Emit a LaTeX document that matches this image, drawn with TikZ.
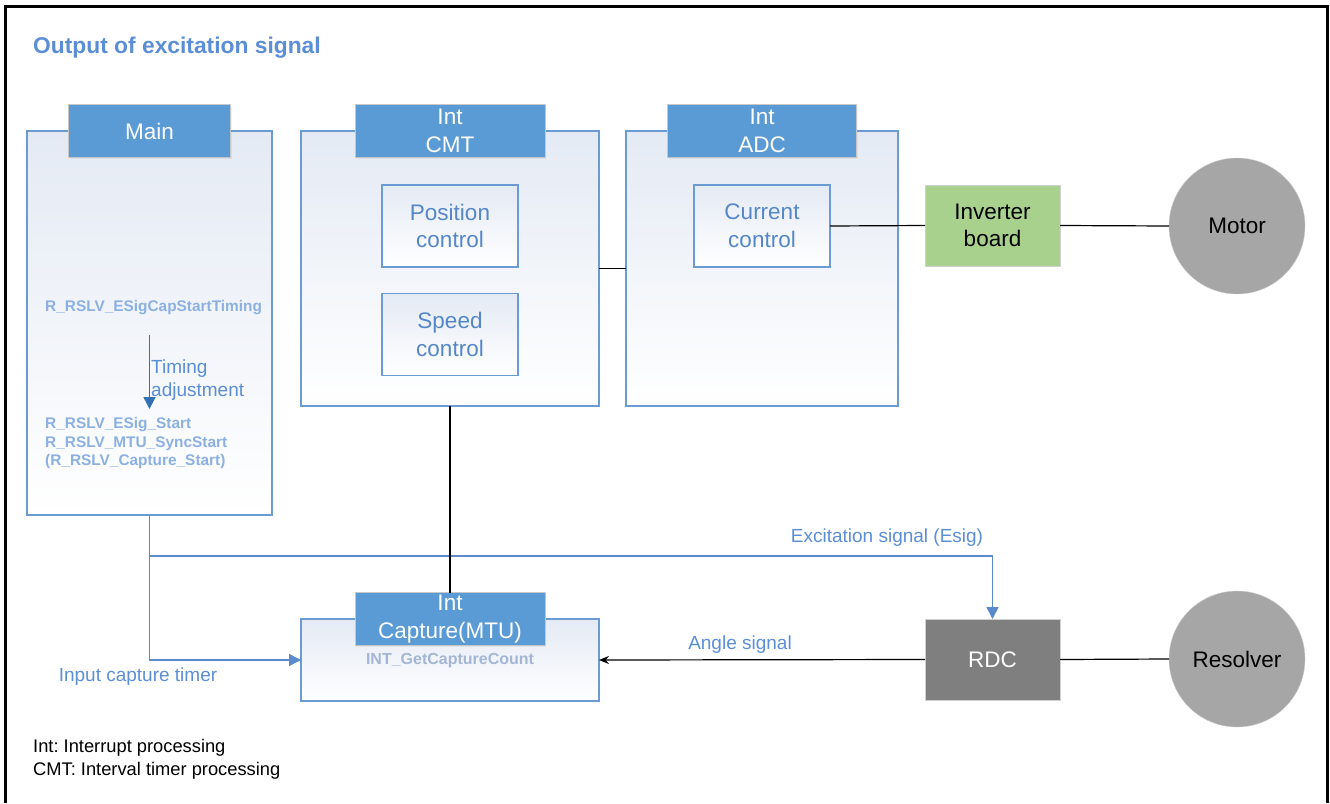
\documentclass[tikz,border=0pt]{standalone}
\usepackage{fontspec}
\setmainfont{Liberation Sans}
\usetikzlibrary{arrows.meta,shadows}
\frenchspacing

\begin{document}
\begin{tikzpicture}[x=1pt,y=-1pt,
  panel/.style={draw=panelline,line width=1.3pt,top color=panelfill,bottom color=white,inner sep=0pt,outer sep=0pt},
  head/.style={draw=black!22,fill=headfill,text=white,minimum height=53,inner sep=0pt,outer sep=0pt,align=center,
    font=\fontsize{22.5}{27.5}\selectfont,drop shadow={opacity=0.12,shadow xshift=1pt,shadow yshift=-1.5pt}},
  ctrl/.style={draw=panelline,line width=1.2pt,top color=panelfill,bottom color=white,minimum width=136,minimum height=82,
    inner sep=0pt,outer sep=0pt,text=ctrltext,align=center,font=\fontsize{22.5}{27.5}\selectfont},
  blk/.style={draw=black!18,minimum width=135,minimum height=81,inner sep=0pt,outer sep=0pt,align=center,font=\fontsize{22.5}{27.5}\selectfont},
  disc/.style={circle,draw=black!20,fill=discgray,minimum size=136,inner sep=0pt,outer sep=0pt,font=\fontsize{22.5}{27.5}\selectfont},
  fn/.style={inner sep=0pt,text=fnblue,font=\bfseries\fontsize{15.4}{18.7}\selectfont},
  lbl/.style={inner sep=0pt,text=lblblue,font=\fontsize{19}{22.5}\selectfont},
  wire/.style={draw=black,line width=1.2pt},
  sig/.style={draw=sigblue,line width=1.6pt,-{Triangle[length=12pt,width=12pt]}}]
\definecolor{panelline}{HTML}{6A9BD3}
\definecolor{panelfill}{HTML}{E4EAF4}
\definecolor{headfill}{HTML}{5B9BD5}
\definecolor{ctrltext}{HTML}{5587C8}
\definecolor{fnblue}{HTML}{8DB0E3}
\definecolor{capfn}{HTML}{A3B6D6}
\definecolor{lblblue}{HTML}{5B8ED6}
\definecolor{sigblue}{HTML}{5A8ACB}
\definecolor{timblue}{HTML}{3271B4}
\definecolor{invgreen}{HTML}{A9D18E}
\definecolor{rdcgray}{HTML}{7F7F7F}
\definecolor{discgray}{HTML}{A6A6A6}
\useasboundingbox (0,0) rectangle (1330,803);
\draw[line width=3pt] (5,803) -- (5,6) -- (1327,6) -- (1327,803);
\node[anchor=west,inner sep=0pt,text=lblblue,font=\bfseries\fontsize{22.8}{27}\selectfont] (title) at (33,48) {Output of excitation signal};

  \foreach \nm/\cx/\cy/\w/\h/\hw/\txt in {main/149.5/323/245/384/162/Main,cmt/450/268.5/298/275/190/{Int\\CMT},
    adc/762/268.5/272/275/189/{Int\\ADC},cap/450/660/298/82/190/{Int\\Capture(MTU)}}
  {  \node[panel,minimum width=\w,minimum height=\h] (\nm) at (\cx,\cy) {};
     \node[head,minimum width=\hw] (\nm-head) at (\nm.north) {\txt};}

  \foreach \nm/\cx/\cy/\txt in {pos/450/226/{Position\\control},spd/450/334.5/{Speed\\control},cur/762/226/{Current\\control}}
  {  \node[ctrl] (\nm) at (\cx,\cy) {\txt};}

\node[blk,fill=invgreen] (inv) at (992.5,225.5) {Inverter\\board};
\node[blk,fill=rdcgray,text=white] (rdc) at (992.5,659.5) {RDC};
\node[disc] (motor) at (1237,226) {Motor};
\node[disc] (resolver) at (1237,659) {Resolver};

\node[fn,anchor=west] (captiming) at (45,308) {R\_RSLV\_ESigCapStartTiming};
\node[fn,anchor=north west,align=left] (esigstart) at (45,417) {R\_RSLV\_ESig\_Start\\R\_RSLV\_MTU\_SyncStart\\(R\_RSLV\_Capture\_Start)};
\node[lbl,anchor=west,align=left] (timlbl) at (151,380) {Timing\\adjustment};
\node[fn,text=capfn,font=\bfseries\fontsize{16}{19}\selectfont] (getcount) at (450,661) {INT\_GetCaptureCount};

\draw[line width=1.4pt,draw=timblue,-{Triangle[length=12pt,width=12pt]}]
  ([yshift=-20pt]captiming.south -| main.center) -- ([yshift=8pt]esigstart.north -| main.center);

\coordinate (split) at ([yshift=-41pt]main.south);
\draw[sig] (main.south) |- (cap.west);
\draw[sig] (split) -| (rdc.north);
\node[lbl] (esiglbl) at (887,538) {Excitation signal (Esig)};
\node[lbl] (inlbl) at (138,677) {Input capture timer};
\node[lbl] (anglelbl) at (740,645) {Angle signal};

\draw[wire] (cmt.east) -- (adc.west);
\draw[wire] (cur.east) -- (inv.west);
\draw[wire] (inv.east) -- (motor.west);
\draw[wire] (rdc.east) -- (resolver.west);
\draw[wire] (cmt.south) -- (cap-head.north);
\draw[wire,-{Stealth[length=10pt,width=8pt]}] (rdc.west) -- (cap.east);

\node[anchor=west,inner sep=0pt,align=left,font=\fontsize{18.3}{23}\selectfont] (legend) at (33,759) {Int: Interrupt processing\\CMT: Interval timer processing};
\end{tikzpicture}
\end{document}
